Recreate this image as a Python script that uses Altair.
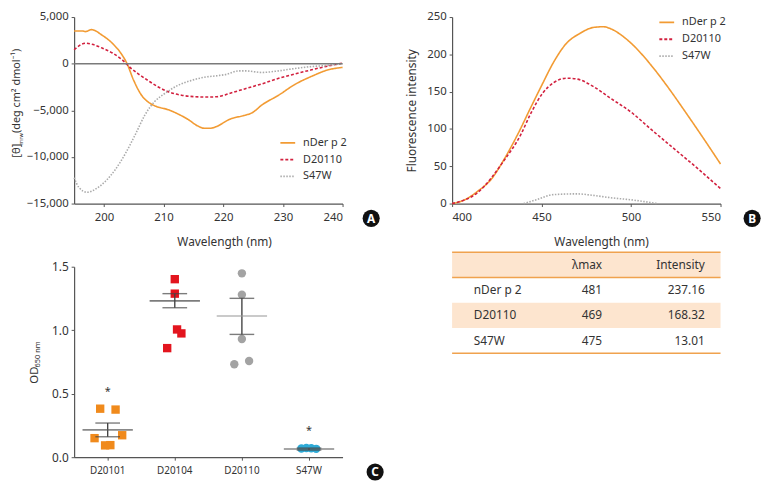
import altair as alt
import pandas as pd

FONT = "Noto Sans"
TXT = "#333333"
AXC = "#555555"

W = 272      # plot width of every panel
H1 = 189     # plot height of the top panels
HC = 193     # plot height of panel C

# ---------------- Panel A : CD spectra ----------------
series = ["nDer p 2", "D20110", "S47W"]
line_colors = ["#F29B33", "#D2213F", "#ABABAB"]
line_dashes = [[1, 0], [3, 2], [1.5, 1.5]]

a_nder_wl = [195, 196.4, 196.9, 197.9, 199.7, 201.4, 203, 203.8, 205, 206.3, 207.7, 208.8, 210.8, 212.4,
             214.1, 215.7, 216.8, 217.9, 219, 221, 223.7, 224.8, 226.5, 229.3, 232, 234.8, 237.6, 240]
a_nder_val = [3500, 3500, 3440, 3650, 3050, 2190, 970, 100, -1810, -3380, -4240, -4590, -4940, -5390,
              -5980, -6670, -6920, -6920, -6700, -5980, -5520, -5280, -4420, -3370, -2230, -1360, -660, -400]
a_d110_wl = [195, 196.9, 198, 199.7, 201.4, 203, 204.4, 205.8, 207.4, 209.1, 210.8, 213, 215.2, 217.4,
             219, 221, 223.7, 226.5, 229.3, 232, 234.8, 237.6, 240]
a_d110_val = [1490, 2190, 2080, 1670, 1150, 450, -420, -1110, -1810, -2500, -3020, -3380, -3540, -3580,
              -3540, -3200, -2680, -2160, -1570, -1110, -660, -250, 50]
a_s47w_wl = [195, 195.8, 197.2, 198.6, 200.3, 201.9, 203.6, 205.3, 206.9, 208.5, 210.2, 212.4, 214.6, 216.8,
             219, 220.5, 222.6, 223.7, 226.5, 229.3, 232, 234.8, 237.6, 240]
a_s47w_val = [-12230, -13270, -13790, -13440, -12580, -11360, -9630, -7540, -5460, -4060, -3200, -2330, -1810,
              -1460, -1290, -1150, -770, -770, -940, -770, -520, -310, -180, 0]
a_xticks = [200, 210, 220, 230, 240]
a_yticks = [-15000, -10000, -5000, 0, 5000]

# ---------------- Panel B : fluorescence ----------------
b_nder_wl = [400, 407, 414, 422, 429, 436.5, 444, 450.6, 456.6, 464, 471.4, 478.8, 484.3, 489.8, 495, 500,
             510, 520, 530, 540, 550]
b_nder_val = [0, 5, 16, 33, 59, 92, 129, 161, 189, 215, 228, 236, 237, 233, 225, 215, 189, 158, 124, 89, 53]
b_d110_wl = [400, 414.4, 429.1, 438.3, 443.8, 450.6, 456.7, 464, 469.6, 478.8, 488, 500.3, 511.9, 524.8, 537.7, 550]
b_d110_val = [0, 15, 58, 92, 120, 148, 162, 168, 167, 157, 142, 122, 98, 72, 46, 20]
b_s47w_wl = [440, 447, 456.6, 469.6, 478.8, 488, 500, 514.8]
b_s47w_val = [0, 5, 12, 13, 11, 8, 5, 0]
b_xticks = [400, 450, 500, 550]
b_yticks = [0, 50, 100, 150, 200, 250]

# ---------------- Panel C : OD650 ----------------
c_groups = ["D20101", "D20104", "D20110", "S47W"]
c_colors = ["#F08A1C", "#E3151E", "#A3A3A3", "#2EAAD6"]
c_shapes = ["square", "square", "circle", "circle"]
c_pt_group = ["D20101"] * 6 + ["D20104"] * 5 + ["D20110"] * 5 + ["S47W"] * 4
c_pt_value = [0.382, 0.375, 0.150, 0.173, 0.093, 0.095,
              1.402, 1.288, 1.006, 0.975, 0.859,
              1.448, 1.280, 0.931, 0.732, 0.758,
              0.068, 0.072, 0.070, 0.066]
c_pt_jitter = [-7.6, 8, -13.3, 14.7, -2.6, 2.7,
               0, 0, 2.3, 6.7, -7.7,
               0, 0, 0, -7.7, 7.3,
               -7.7, -2.7, 2.3, 7.3]
c_mean = [0.215, 1.231, 1.112, 0.064]
c_sem_hi = [0.269, 1.288, 1.251, 0.072]
c_sem_lo = [0.161, 1.177, 0.967, 0.056]
c_mean_color = ["#555555", "#444444", "#9A9A9A", "#555555"]
c_star_group = ["D20101", "S47W"]
c_star_y = [0.512, 0.209]
c_yticks = [0, 0.5, 1.0, 1.5]

# ---------------- Table ----------------
t_head = ["", "λmax", "Intensity"]
t_names = ["nDer p 2", "D20110", "S47W"]
t_lmax = [481, 469, 475]
t_int = [237.16, 168.32, 13.01]

# ============ helpers ============
def axis_common(**kw):
    base = dict(grid=False, tickSize=3, labelFontSize=11.5, titleFontSize=12,
                titleFontWeight="normal", labelColor=TXT, titleColor=TXT,
                domainColor=AXC, tickColor=AXC, domainWidth=1.2)
    base.update(kw)
    return alt.Axis(**base)


def long_df(pairs):
    frames = []
    for name, wl, val in pairs:
        frames.append(pd.DataFrame({"wl": wl, "val": val, "series": name}))
    return pd.concat(frames, ignore_index=True)


def legend(lx, ly):
    return alt.Legend(title=None, orient="none", legendX=lx, legendY=ly, symbolType="stroke",
                      symbolSize=225, symbolStrokeWidth=1.8, labelFontSize=11, labelColor=TXT,
                      labelFontWeight="normal", labelOffset=7, rowPadding=3, padding=0)


def badge(letter, x, y):
    d = pd.DataFrame({"p": [letter]})
    dot = alt.Chart(d).mark_circle(size=300, color="#111111", opacity=1).encode(
        x=alt.value(x), y=alt.value(y))
    txt = alt.Chart(d).mark_text(color="white", fontWeight="bold", fontSize=12, baseline="middle",
                                 align="center").encode(text="p:N", x=alt.value(x), y=alt.value(y + 0.5))
    return dot + txt


def piece(text, x, y, size):
    return alt.Chart(pd.DataFrame({"t": [text]})).mark_text(
        angle=270, align="left", baseline="alphabetic", fontSize=size, color=TXT
    ).encode(text="t:N", x=alt.value(x), y=alt.value(y))


color_scale = alt.Scale(domain=series, range=line_colors)
dash_scale = alt.Scale(domain=series, range=line_dashes)

# ============ Panel A ============
df_a = long_df([(series[0], a_nder_wl, a_nder_val), (series[1], a_d110_wl, a_d110_val),
                (series[2], a_s47w_wl, a_s47w_val)])
a_x = alt.X("wl:Q", scale=alt.Scale(domain=[195, 240], nice=False, zero=False),
            axis=axis_common(values=a_xticks, title="Wavelength (nm)", titleX=152, titleY=38,
                             titleBaseline="middle", labelPadding=5))
a_yaxis = axis_common(values=a_yticks, format=",.0f", labelExpr="format(datum.value, ',.0f')",
                      title=None, labelPadding=3)
a_yscale = alt.Scale(domain=[-15000, 5000], nice=False)

lines_a = alt.Chart(df_a).mark_line(strokeWidth=1.6, interpolate="monotone").encode(
    x=a_x,
    y=alt.Y("val:Q", scale=a_yscale, axis=a_yaxis),
    color=alt.Color("series:N", scale=color_scale, legend=legend(208, 119)),
    strokeDash=alt.StrokeDash("series:N", scale=dash_scale, legend=legend(208, 119)),
)
zero_a = alt.Chart(pd.DataFrame({"val": [0]})).mark_rule(color="#7A7A7A", strokeWidth=1.5).encode(
    y=alt.Y("val:Q", scale=a_yscale, axis=a_yaxis))
ca = H1 / 2
A = alt.layer(
    lines_a, zero_a,
    piece("[θ]", -55, ca + 48, 11.5),
    piece("mrw", -52, ca + 35, 5.5),
    piece("(deg cm² dmol⁻¹)", -55, ca + 23, 11),
    badge("A", 301, H1 + 15),
).properties(width=W, height=H1)

# ============ Panel B ============
df_b = long_df([(series[0], b_nder_wl, b_nder_val), (series[1], b_d110_wl, b_d110_val),
                (series[2], b_s47w_wl, b_s47w_val)])
lines_b = alt.Chart(df_b).mark_line(strokeWidth=1.6, interpolate="monotone").encode(
    x=alt.X("wl:Q", scale=alt.Scale(domain=[400, 550], nice=False, zero=False),
            axis=axis_common(values=b_xticks, title="Wavelength (nm)", titleX=151, titleY=38,
                             titleBaseline="middle", labelPadding=5)),
    y=alt.Y("val:Q", scale=alt.Scale(domain=[0, 250], nice=False),
            axis=axis_common(values=b_yticks, title="Fluorescence intensity", labelPadding=3,
                             titlePadding=8)),
    color=alt.Color("series:N", scale=color_scale, legend=legend(209, -3)),
    strokeDash=alt.StrokeDash("series:N", scale=dash_scale, legend=legend(209, -3)),
)
B = alt.layer(lines_b, badge("B", 304, H1 + 15)).properties(width=W, height=H1)

# ============ Panel C ============
df_pts = pd.DataFrame({"group": c_pt_group, "value": c_pt_value, "jitter": c_pt_jitter})
df_sum = pd.DataFrame({"group": c_groups, "mean": c_mean, "hi": c_sem_hi, "lo": c_sem_lo,
                       "mc": c_mean_color})
df_star = pd.DataFrame({"group": c_star_group, "y": c_star_y})

c_x = alt.X("group:N", sort=c_groups, scale=alt.Scale(domain=c_groups, paddingInner=0, paddingOuter=0),
            axis=axis_common(title=None, labelAngle=0, labelFontSize=10, labelPadding=6))
c_yscale = alt.Scale(domain=[0, 1.5], nice=False)
c_yaxis = axis_common(values=c_yticks, format=".1f", title=None, labelPadding=3, labelFontSize=12)

pts = alt.Chart(df_pts).mark_point(filled=True, opacity=1, size=72).encode(
    x=c_x,
    xOffset=alt.XOffset("jitter:Q", scale=alt.Scale(domain=[-34, 34], range=[0, 68])),
    y=alt.Y("value:Q", scale=c_yscale, axis=c_yaxis),
    color=alt.Color("group:N", scale=alt.Scale(domain=c_groups, range=c_colors), legend=None),
    shape=alt.Shape("group:N", scale=alt.Scale(domain=c_groups, range=c_shapes), legend=None),
)
mean_t = alt.Chart(df_sum).mark_tick(size=51, thickness=1.6).encode(
    x=c_x, y=alt.Y("mean:Q", scale=c_yscale, axis=c_yaxis), color=alt.Color("mc:N", scale=None))
hi_t = alt.Chart(df_sum).mark_tick(size=25, thickness=1.4, color="#444444").encode(
    x=c_x, y=alt.Y("hi:Q", scale=c_yscale, axis=c_yaxis))
lo_t = alt.Chart(df_sum).mark_tick(size=25, thickness=1.4, color="#444444").encode(
    x=c_x, y=alt.Y("lo:Q", scale=c_yscale, axis=c_yaxis))
sem_r = alt.Chart(df_sum).mark_rule(strokeWidth=1.4, color="#444444").encode(
    x=c_x, y=alt.Y("lo:Q", scale=c_yscale, axis=c_yaxis), y2="hi:Q")
stars = alt.Chart(df_star).mark_text(text="*", fontSize=11, color=TXT, baseline="middle").encode(
    x=c_x, y=alt.Y("y:Q", scale=c_yscale, axis=c_yaxis))
cc = HC / 2
C = alt.layer(
    pts, sem_r, hi_t, lo_t, mean_t, stars,
    piece("OD", -37, cc + 22, 11.5),
    piece("650 nm", -34.5, cc + 5.5, 7.5),
    badge("C", 305, HC + 15),
).properties(width=W, height=HC)

# ============ Table ============
ROW = 25.6
d0 = 14.7 / ROW
t_yscale = alt.Scale(domain=[d0, d0 + HC / ROW], reverse=True, nice=False, zero=False)

df_rows = pd.DataFrame({
    "name": [t_head[0]] + t_names,
    "lmax": [t_head[1]] + [str(v) for v in t_lmax],
    "inten": [t_head[2]] + [f"{v:.2f}" for v in t_int],
})
df_rows["r"] = range(len(df_rows))
df_rows["mid"] = df_rows["r"] + 0.5
df_rows["r2"] = df_rows["r"] + 1
df_shade = df_rows[df_rows["r"] % 2 == 0]
df_lines = pd.DataFrame({"b": [0, 1, len(df_rows)]})

shade = alt.Chart(df_shade).mark_rect(color="#FDE5CF").encode(
    y=alt.Y("r:Q", scale=t_yscale, axis=None), y2="r2:Q", x=alt.value(0), x2=alt.value(W))
rules = alt.Chart(df_lines).mark_rule(color="#F0A24E", strokeWidth=1.5).encode(
    y=alt.Y("b:Q", scale=t_yscale, axis=None), x=alt.value(0), x2=alt.value(W))
col1 = alt.Chart(df_rows).mark_text(align="left", baseline="middle", fontSize=12, color=TXT).encode(
    text="name:N", y=alt.Y("mid:Q", scale=t_yscale, axis=None), x=alt.value(22))
col2 = alt.Chart(df_rows).mark_text(align="right", baseline="middle", fontSize=12, color=TXT).encode(
    text="lmax:N", y=alt.Y("mid:Q", scale=t_yscale, axis=None), x=alt.value(152))
col3 = alt.Chart(df_rows).mark_text(align="right", baseline="middle", fontSize=12, color=TXT).encode(
    text="inten:N", y=alt.Y("mid:Q", scale=t_yscale, axis=None), x=alt.value(256))
D = alt.layer(shade, rules, col1, col2, col3).properties(width=W, height=HC)

chart = alt.concat(A, B, C, D, columns=2, spacing={"row": 4, "column": 22}).resolve_scale(
    color="independent", strokeDash="independent", shape="independent"
).properties(
    padding={"left": 3, "top": 0, "right": 0, "bottom": 0}
).configure(font=FONT).configure_view(stroke=None).configure_text(font=FONT).configure_legend(
    labelFont=FONT
)

chart.save("out.html", embed_options={"renderer": "svg", "actions": False})
